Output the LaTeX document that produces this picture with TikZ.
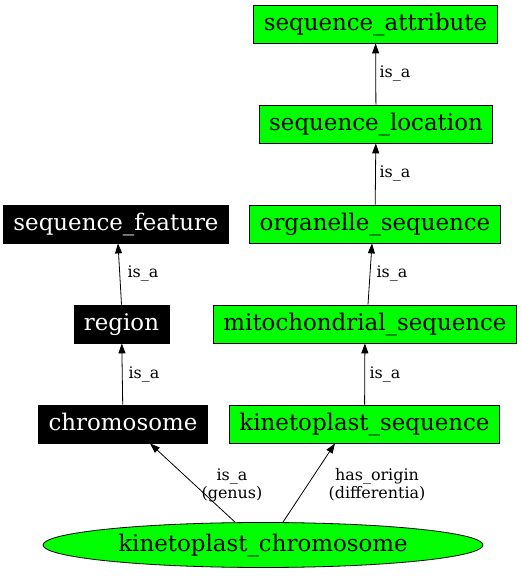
\documentclass[tikz,border=0pt]{standalone}
\usepackage{fontspec}
\setmainfont{DejaVu Serif}
\usetikzlibrary{shapes.geometric,arrows.meta}
\begin{document}
\begin{tikzpicture}[
		x=1bp, y=1bp,
		every node/.style={rectangle, draw, fill=green, line width=0.8bp, minimum height=38bp, inner xsep=10bp, text height=19bp, text depth=5bp, font=\fontsize{23}{26}\selectfont},
		dark/.style={fill=black, text=white},
		rel/.style={draw=none, fill=none, minimum height=0bp, inner sep=1bp, text height=, text depth=, align=center, font=\fontsize{16}{18}\selectfont},
		isa/.style={line width=0.8bp, -{Triangle[length=10bp,width=7bp]}}
	]
  \useasboundingbox (0,0) rectangle (522,576);
  \node (attr) at (375.5,552) {sequence\_attribute};
  \node (loc) at (376,452) {sequence\_location};
  \node (feat) [dark] at (116,352) {sequence\_feature};
  \node (org) at (375,352) {organelle\_sequence};
  \node (region) [dark] at (121.5,252) {region};
  \node (mito) at (365,252) {mitochondrial\_sequence};
  \node (chrom) [dark] at (123,152) {chromosome};
  \node (kseq) at (364.5,152) {kinetoplast\_sequence};
  \node (kchrom) [ellipse, minimum width=440bp, minimum height=45bp, inner sep=0bp] at (263,31) {kinetoplast\_chromosome};
  \node (l_loc) [rel] at (395,502) {is\_a};
  \node (l_org) [rel] at (395,402) {is\_a};
  \node (l_mito) [rel] at (392,302) {is\_a};
  \node (l_region) [rel] at (143,302) {is\_a};
  \node (l_chrom) [rel] at (144,201) {is\_a};
  \node (l_kseq) [rel] at (385,201) {is\_a};
  \node (l_genus) [rel] at (232,91) {is\_a\\(genus)};
  \node (l_diff) [rel] at (377,91) {has\_origin\\(differentia)};
  \draw (loc) edge [isa] (attr);
  \draw (org) edge [isa] (loc);
  \draw ([xshift=3bp]mito.north) edge [isa] ([xshift=-3bp]org.south);
  \draw (region.north) edge [isa] ([xshift=2bp]feat.south);
  \draw (chrom) edge [isa] (region);
  \draw (kseq) edge [isa] (mito);
  \draw ([xshift=-28bp]kchrom.north) edge [isa] ([xshift=27bp]chrom.south);
  \draw ([xshift=20bp]kchrom.north) edge [isa] ([xshift=-29.5bp]kseq.south);
\end{tikzpicture}
\end{document}
